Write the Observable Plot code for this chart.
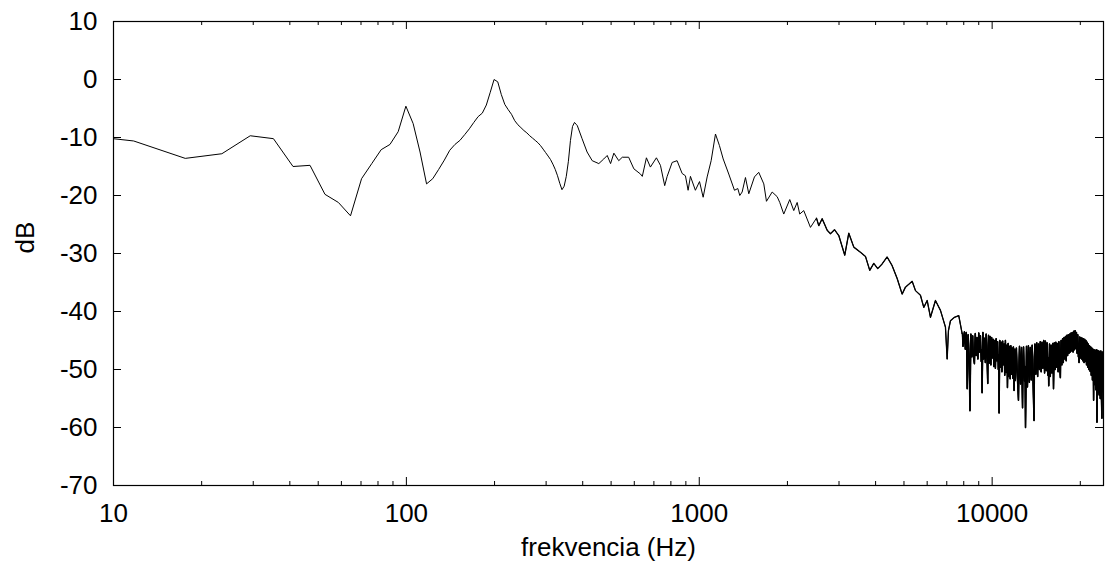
<!DOCTYPE html>
<html><head><meta charset="utf-8">
<script src="https://cdn.jsdelivr.net/npm/d3@7"></script>
<script src="https://cdn.jsdelivr.net/npm/@observablehq/plot@0.6"></script>
<style>html,body{margin:0;padding:0;background:#fff;} #chart svg{display:block}</style>
</head><body><div id="chart"></div>
<script>
// ---- data ----
const xLabel = "frekvencia (Hz)";
const yLabel = "dB";
const xMajor = [10, 100, 1000, 10000];
const xMinor = [20,30,40,50,60,70,80,90,200,300,400,500,600,700,800,900,2000,3000,4000,5000,6000,7000,8000,9000,20000];
const yTicks = [-70,-60,-50,-40,-30,-20,-10,0,10];

// low-frequency FFT bins (Hz) and levels (dB)
const lowFreq = [5.86,11.72,17.58,23.44,29.30,35.16,41.02,46.88,52.73,58.59,64.45,70.31,76.17,82.03,87.89,93.75,99.61,105.47,111.33,117.19,123.05,128.91,134.77,140.63,146.48,152.34,158.20,164.06,169.92,175.78,181.64,187.50,193.36,199.22,205.08,210.94,216.80,222.66,228.52,234.38,240.23,246.09,251.95,257.81,263.67,269.53,275.39,281.25,287.11,292.97,298.83,304.69,310.55,316.41,322.27,328.13,333.98,339.84,345.70,351.56,357.42,363.28,369.14,375.00,380.86];
const lowDb = [-8.9,-10.6,-13.6,-12.8,-9.7,-10.2,-15.0,-14.8,-19.8,-21.2,-23.5,-17.1,-14.5,-12.1,-11.2,-9.0,-4.6,-7.6,-12.5,-18.0,-17.1,-15.5,-13.9,-12.2,-11.2,-10.5,-9.5,-8.5,-7.4,-6.4,-5.8,-4.4,-2.2,0.0,-0.4,-2.6,-4.3,-5.2,-6.0,-7.1,-7.8,-8.3,-8.8,-9.2,-9.7,-10.1,-10.5,-10.9,-11.4,-12.0,-12.6,-13.2,-13.8,-14.6,-15.5,-16.6,-17.9,-19.0,-18.4,-16.7,-14.1,-10.5,-8.1,-7.4,-7.8];

// mid range
const midFreq = [383,398,414,431,454,472,485,498,511,531,546,574,598,630,639,660,681,714,737,762,777,808,840,874,897,916,933,970,1002,1031,1064,1098,1136,1172,1207,1261,1319,1354,1375,1401,1438,1476,1543,1596,1661,1696,1774,1845,1883,1943,2037,2102,2159,2203,2274,2397,2513,2559,2628,2734,2805,2895,2995,3139,3240,3370,3551,3694,3820,3943,4068,4211,4380,4556,4739,4928,5058,5333,5473,5691,5842,6000,6158,6404,6661,6928,7021,7093,7205,7436,7691,7899];
const midDb = [-7.9,-10.2,-12.5,-14.0,-14.5,-13.7,-13.1,-14.5,-12.7,-14.0,-13.4,-13.4,-15.4,-16.3,-16.7,-13.5,-15.1,-13.5,-14.8,-18.3,-16.7,-14.3,-14.0,-16.2,-16.6,-19.1,-16.7,-19.1,-17.6,-20.3,-16.8,-14.0,-9.4,-11.4,-13.7,-16.3,-19.1,-18.8,-20.0,-19.4,-16.9,-19.7,-16.8,-16.0,-18.0,-21.0,-19.4,-20.2,-21.2,-23.2,-20.7,-22.6,-21.2,-23.2,-22.6,-25.5,-23.9,-25.2,-24.0,-26.0,-26.6,-25.9,-26.9,-30.3,-26.5,-28.9,-29.8,-30.5,-32.9,-31.7,-32.6,-31.8,-30.6,-32.1,-34.3,-37.0,-35.8,-34.8,-36.4,-37.2,-39.3,-38.1,-41.0,-38.1,-39.8,-42.7,-48.2,-43.3,-41.6,-41.0,-40.7,-43.8];

// noisy high range
const noiseFreq = [7920,7980,8040,8100,8160,8220,8280,8340,8400,8460,8520,8580,8640,8700,8760,8820,8880,8940,9000,9060,9120,9180,9240,9300,9360,9420,9480,9540,9600,9660,9720,9780,9840,9900,9960,10020,10080,10140,10200,10260,10320,10380,10440,10500,10560,10620,10680,10740,10800,10860,10920,10980,11040,11100,11160,11220,11280,11340,11400,11460,11520,11580,11640,11700,11760,11820,11880,11940,12000,
12100,12200,12300,12400,12500,12600,12700,12800,12900,13000,13100,13200,13300,13400,13500,13600,13700,13800,13900,14000,14100,14200,14300,14400,14500,14600,14700,14800,14900,15000,15100,15200,15300,15400,15500,15600,15700,15800,15900,16000,16100,16200,16300,16400,16500,16600,16700,16800,16900,17000,17100,17200,17300,17400,17500,17600,17700,17800,17900,18000,18100,18200,18300,18400,18500,18600,18700,18800,18900,19000,19100,19200,19300,19400,19500,19600,19700,19800,19900,20000,20100,20200,20300,20400,20500,20600,20700,20800,20900,21000,21100,21200,21300,21400,21500,21600,21700,21800,21900,22000,22100,22200,22300,22400,22500,22600,22700,22800,22900,23000,23100,23200,23300,23400,23500,23600,23700,23800,23900,24000];
const noiseDb = [-43.8,-45.5,-43.5,-46.5,-43.6,-53.3,-44.0,-47.5,-57.1,-43.9,-47.8,-44.2,-48.0,-49.0,-43.8,-47.6,-44.5,-48.2,-43.7,-47.0,-44.2,-48.6,-54.0,-43.6,-48.2,-44.6,-48.8,-43.9,-47.5,-52.4,-44.1,-48.9,-44.3,-49.2,-44.5,-48.0,-44.8,-49.5,-45.0,-49.8,-44.7,-48.5,-45.2,-50.0,-57.5,-45.0,-49.6,-45.3,-50.4,-45.1,-49.2,-45.6,-51.0,-45.0,-50.5,-45.8,-53.1,-45.5,-51.2,-46.0,-51.6,-45.9,-50.8,-46.3,-51.5,-46.1,-53.6,-46.5,-51.9,
-46.3,-51.5,-55.3,-46.0,-52.5,-46.2,-56.6,-46.1,-52.0,-60.0,-46.0,-53.0,-45.9,-52.2,-46.2,-51.8,-45.8,-52.5,-58.8,-45.6,-50.8,-45.4,-51.2,-45.6,-50.0,-45.2,-50.4,-45.3,-49.8,-45.0,-50.6,-45.1,-50.2,-45.4,-51.0,-52.8,-45.6,-51.2,-45.8,-50.6,-45.5,-53.3,-45.4,-50.0,-45.3,-49.6,-45.5,-50.4,-45.2,-49.5,-51.4,-45.0,-49.2,-44.7,-48.8,-44.5,-48.2,-44.3,-48.5,-44.1,-47.6,-44.0,-47.2,-43.9,-47.0,-43.7,-46.8,-43.6,-47.0,-43.4,-46.6,-43.3,-46.4,-43.6,-47.2,-44.0,-47.8,-48.8,-44.4,-48.0,-44.5,-48.2,-44.6,-48.5,-44.7,-48.8,-44.8,-48.6,-45.0,-49.2,-45.3,-49.6,-45.6,-50.0,-45.9,-50.3,-46.1,-51.0,-46.3,-51.8,-46.5,-55.3,-46.6,-52.6,-46.7,-53.5,-46.6,-59.1,-46.7,-54.0,-46.8,-54.4,-46.9,-55.0,-46.8,-54.2,-58.4,-47.0,-53.8,-47.1];

// extra in-between readings of the dense band (fill)
const fillFreq = [7950,8070,8190,8310,8490,8610,8730,8850,8970,9090,9210,9330,9450,9570,9690,9810,9930,10050,10170,10290,10410,10530,10650,10770,10890,11010,11130,11250,11370,11490,11610,11730,11850,11970,
12150,12350,12550,12750,12950,13150,13350,13550,13750,13950,14150,14350,14550,14750,14950,15150,15350,15550,15750,15950,16150,16350,16550,16750,16950,17150,17350,17550,17750,17950,18150,18350,18550,18750,18950,19150,19350,19550,19750,19950,20150,20350,20550,20750,20950,21150,21350,21550,21750,21950,22150,22350,22550,22750,22950,23150,23350,23550,23750,23950];
const fillDb = [-46.0,-45.0,-46.8,-45.5,-46.2,-46.5,-45.8,-46.0,-46.3,-45.6,-46.6,-46.0,-46.2,-46.4,-45.9,-46.8,-46.5,-46.9,-47.0,-47.3,-46.8,-47.5,-47.2,-47.6,-48.0,-47.4,-48.2,-47.8,-48.0,-48.3,-48.1,-48.5,-48.4,-48.8,
-48.8,-49.0,-48.6,-49.2,-49.5,-49.0,-48.8,-48.6,-48.2,-47.8,-47.6,-47.9,-47.4,-47.6,-47.2,-47.5,-47.8,-48.0,-48.2,-47.9,-47.7,-47.4,-47.3,-47.5,-47.0,-46.9,-46.5,-46.2,-46.0,-45.9,-45.6,-45.4,-45.2,-45.1,-45.0,-44.8,-45.0,-45.3,-45.8,-46.0,-46.2,-46.4,-46.5,-46.6,-46.8,-47.0,-47.4,-47.8,-48.0,-48.4,-48.8,-49.2,-49.6,-50.0,-50.3,-50.6,-50.8,-50.9,-51.0,-50.8];

// ---- build table ----
const freqs = [...lowFreq, ...midFreq, ...noiseFreq, ...fillFreq];
const dbs = [...lowDb, ...midDb, ...noiseDb, ...fillDb];
const data = freqs.map((f, i) => ({f, db: dbs[i]})).sort((a, b) => a.f - b.f);
const dense = data.filter(d => d.f >= 2500);
const band = data.filter(d => d.f >= 7899);

const W = 1105, H = 571, mL = 113, mR = 2, mT = 21, mB = 86;
const iw = W - mL - mR, ih = H - mT - mB;
const font = "'Liberation Sans', Arial, Helvetica, sans-serif";

const chart = Plot.plot({
  width: W, height: H,
  marginLeft: mL, marginRight: mR, marginTop: mT, marginBottom: mB,
  style: {fontFamily: font, fontSize: "26px", background: "#fff", color: "#000"},
  x: {type: "log", domain: [10, 24000]},
  y: {domain: [-70, 10]},
  marks: [
    Plot.line(data, {x: "f", y: "db", stroke: "#000", strokeWidth: 1, clip: true}),
    Plot.line(dense, {x: "f", y: "db", stroke: "#000", strokeWidth: 1.3, clip: true}),
    Plot.line(band, {x: "f", y: "db", stroke: "#000", strokeWidth: 1.5, clip: true}),
    Plot.ruleX(xMajor, {x: d => d, insetTop: ih - 8, stroke: "#000"}),
    Plot.ruleX(xMajor, {x: d => d, insetBottom: ih - 8, stroke: "#000"}),
    Plot.ruleX(xMinor, {x: d => d, insetTop: ih - 4, stroke: "#000"}),
    Plot.ruleX(xMinor, {x: d => d, insetBottom: ih - 4, stroke: "#000"}),
    Plot.ruleY(yTicks, {y: d => d, insetRight: iw - 8, stroke: "#000"}),
    Plot.ruleY(yTicks, {y: d => d, insetLeft: iw - 8, stroke: "#000"}),
    Plot.frame({stroke: "#000", strokeWidth: 1.2}),
    Plot.axisX(xMajor, {tickSize: 0, tickPadding: 18, fontSize: 26, tickFormat: d => String(d), label: null}),
    Plot.axisY(yTicks, {tickSize: 0, tickPadding: 16, fontSize: 26, tickFormat: d => String(d), label: null}),
    Plot.text([xLabel], {text: d => d, frameAnchor: "bottom", dy: 70, fontSize: 26}),
    Plot.text([yLabel], {text: d => d, frameAnchor: "left", dx: -88, rotate: -90, fontSize: 26})
  ]
});
document.getElementById("chart").appendChild(chart);
</script>
</body></html>
